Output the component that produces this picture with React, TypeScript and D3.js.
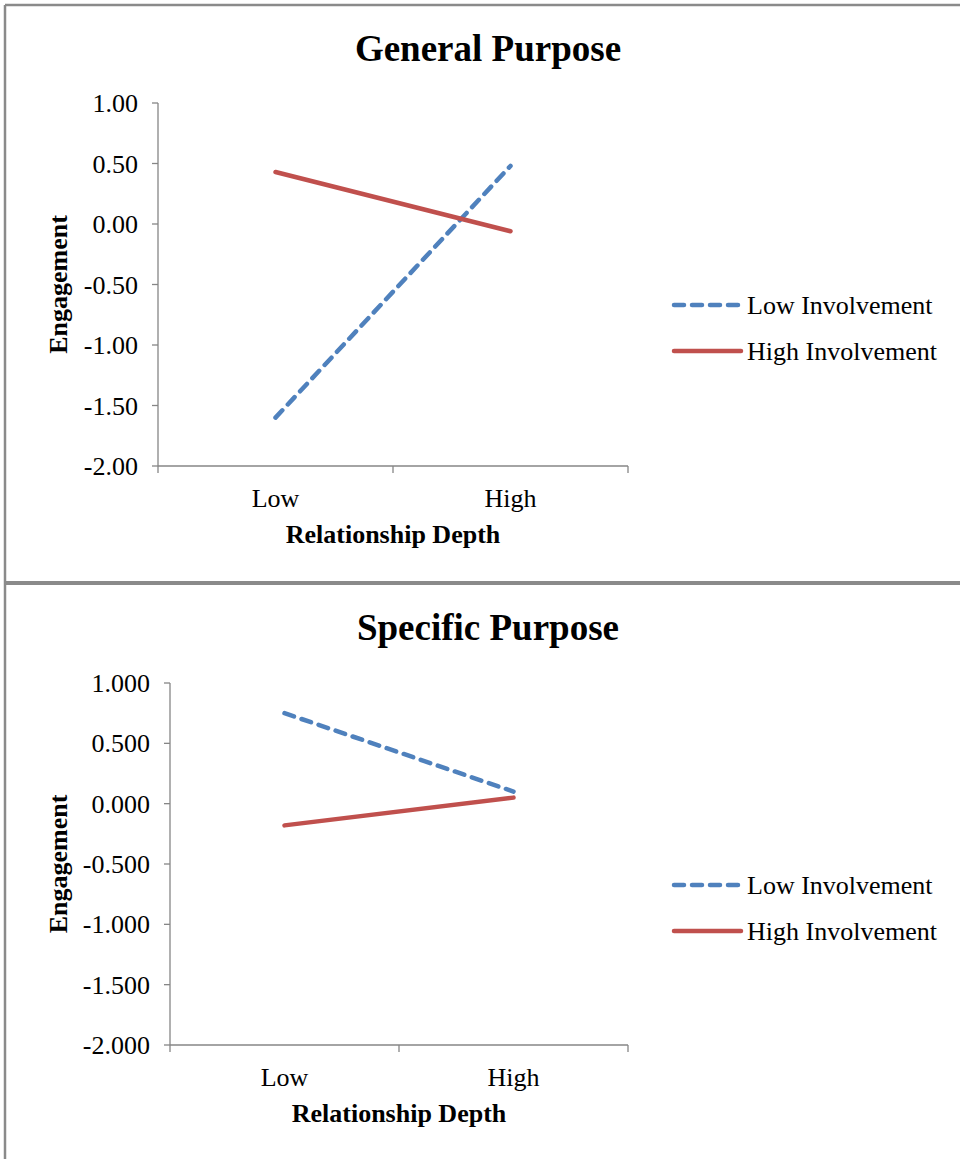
import React from "react";
import * as d3 from "d3";

const categories = ["Low", "High"];
const seriesNames = ["Low Involvement", "High Involvement"];
const generalLow = [-1.6, 0.48];
const generalHigh = [0.43, -0.06];
const specificLow = [0.75, 0.1];
const specificHigh = [-0.18, 0.05];
const yTicks = [1.0, 0.5, 0.0, -0.5, -1.0, -1.5, -2.0];

const BLUE = "#4F81BD";
const RED = "#C0504D";
const AXIS = "#868686";
const FONT = "'Liberation Serif', 'Times New Roman', serif";

type PanelProps = {
  title: string;
  titleY: number;
  x0: number;
  x1: number;
  yTop: number;
  yBottom: number;
  fmt: string;
  low: number[];
  high: number[];
  legendY: number;
};

function Panel(p: PanelProps) {
  const y = d3.scaleLinear().domain([-2, 1]).range([p.yBottom, p.yTop]);
  const x = d3.scaleBand<string>().domain(categories).range([p.x0, p.x1]);
  const cx = (c: string) => (x(c) as number) + x.bandwidth() / 2;
  const line = d3
    .line<number>()
    .x((_, i) => cx(categories[i]))
    .y((d) => y(d));
  const f0 = d3.format(p.fmt);
  const f = (v: number) => f0(v).replace("\u2212", "-");
  const midY = (p.yTop + p.yBottom) / 2;
  const series = [
    { name: seriesNames[0], data: p.low, color: BLUE, dash: "10,8" },
    { name: seriesNames[1], data: p.high, color: RED, dash: undefined },
  ];
  const xTickPos = [p.x0, ...categories.map((c) => (x(c) as number) + x.bandwidth())];
  return (
    <g fontFamily={FONT} fill="#000">
      <text x={488} y={p.titleY} textAnchor="middle" fontSize={37} fontWeight="bold">
        {p.title}
      </text>
      <line x1={p.x0} x2={p.x0} y1={p.yTop} y2={p.yBottom} stroke={AXIS} strokeWidth={1.3} />
      {yTicks.map((t) => (
        <g key={t}>
          <line x1={p.x0 - 6} x2={p.x0} y1={y(t)} y2={y(t)} stroke={AXIS} strokeWidth={1.3} />
          <text x={p.x0 - 20} y={y(t)} dy="0.35em" textAnchor="end" fontSize={26}>
            {f(t)}
          </text>
        </g>
      ))}
      <line x1={p.x0} x2={p.x1} y1={p.yBottom} y2={p.yBottom} stroke={AXIS} strokeWidth={1.3} />
      {xTickPos.map((xp, i) => (
        <line key={i} x1={xp} x2={xp} y1={p.yBottom} y2={p.yBottom + 7} stroke={AXIS} strokeWidth={1.3} />
      ))}
      {categories.map((c) => (
        <text key={c} x={cx(c)} y={p.yBottom + 41} textAnchor="middle" fontSize={26}>
          {c}
        </text>
      ))}
      <text x={(p.x0 + p.x1) / 2} y={p.yBottom + 77} textAnchor="middle" fontSize={26} fontWeight="bold">
        Relationship Depth
      </text>
      <text
        transform={`translate(67, ${midY}) rotate(-90)`}
        textAnchor="middle"
        fontSize={26}
        fontWeight="bold"
      >
        Engagement
      </text>
      {series.map((s) => (
        <path
          key={s.name}
          d={line(s.data) || ""}
          fill="none"
          stroke={s.color}
          strokeWidth={4.5}
          strokeDasharray={s.dash}
          strokeLinecap="round"
        />
      ))}
      {series.map((s, i) => (
        <g key={s.name} transform={`translate(0, ${p.legendY + i * 46})`}>
          <line
            x1={674}
            x2={741}
            y1={0}
            y2={0}
            stroke={s.color}
            strokeWidth={4.5}
            strokeDasharray={s.dash}
            strokeLinecap="round"
          />
          <text x={747} y={0} dy="0.35em" fontSize={26}>
            {s.name}
          </text>
        </g>
      ))}
    </g>
  );
}

export default function App() {
  return (
    <svg
      width={960}
      height={1159}
      style={{ position: "absolute", left: 0, top: 0, background: "#fff" }}
    >
      <rect x={0} y={0} width={960} height={1159} fill="#fff" />
      <line x1={5} x2={960} y1={5} y2={5} stroke="#8a8a8a" strokeWidth={2.5} />
      <line x1={5} x2={5} y1={5} y2={1159} stroke="#8a8a8a" strokeWidth={2.5} />
      <line x1={5} x2={960} y1={583} y2={583} stroke="#8a8a8a" strokeWidth={4} />
      <Panel
        title="General Purpose"
        titleY={61}
        x0={158}
        x1={628}
        yTop={103}
        yBottom={466}
        fmt=".2f"
        low={generalLow}
        high={generalHigh}
        legendY={305}
      />
      <Panel
        title="Specific Purpose"
        titleY={640}
        x0={170}
        x1={628}
        yTop={683}
        yBottom={1045}
        fmt=".3f"
        low={specificLow}
        high={specificHigh}
        legendY={885}
      />
    </svg>
  );
}
